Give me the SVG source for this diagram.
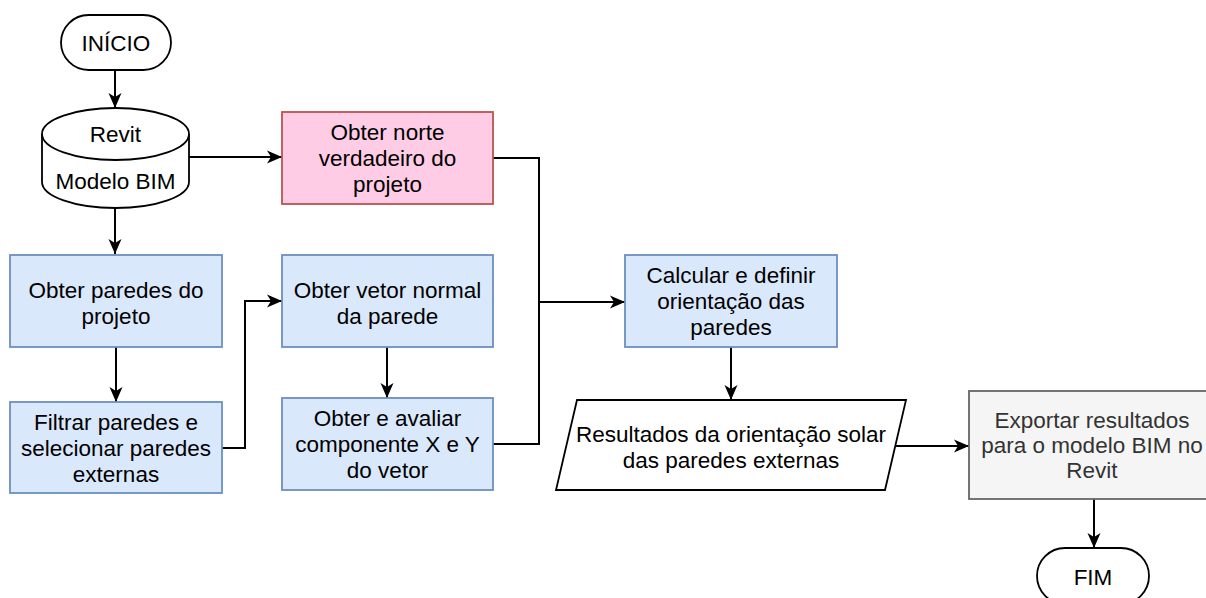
<svg xmlns="http://www.w3.org/2000/svg" width="1206" height="598" viewBox="0 0 1206 598">
  <defs>
    <style>
      text { font-family: "Liberation Sans", Arial, sans-serif; font-size: 22.5px; fill: #000; text-anchor: middle; }
      .term { fill: #ffffff; stroke: #000; stroke-width: 1.8; }
      .blue { fill: #dae8fc; stroke: #6c8ebf; stroke-width: 1.8; }
      .pink { fill: #ffcce6; stroke: #b85450; stroke-width: 1.8; }
      .gray { fill: #f5f5f5; stroke: #666666; stroke-width: 1.8; }
      .gray-text { fill: #333333; }
      .plain { fill: #ffffff; stroke: #000; stroke-width: 1.8; }
      .edge { fill: none; stroke: #000; stroke-width: 2; }
    </style>
    <marker id="arrow" markerUnits="userSpaceOnUse" markerWidth="20" markerHeight="16" viewBox="-17 -8 20 16" refX="0" refY="0" orient="auto">
      <path d="M0,0 L-15,-6.5 L-11,0 L-15,6.5 Z" fill="#000"/>
    </marker>
  </defs>

  <rect width="1206" height="598" fill="#ffffff"/>

  <!-- connectors -->
  <g id="edges">
    <path class="edge" d="M115,70 V108" marker-end="url(#arrow)"/>
    <path class="edge" d="M189,157 H282" marker-end="url(#arrow)"/>
    <path class="edge" d="M115,208 V254" marker-end="url(#arrow)"/>
    <path class="edge" d="M116,347 V402" marker-end="url(#arrow)"/>
    <path class="edge" d="M222,448 H245 V301 H282" marker-end="url(#arrow)"/>
    <path class="edge" d="M387,347 V398" marker-end="url(#arrow)"/>
    <path class="edge" d="M493,158 H539 V302 H625" marker-end="url(#arrow)"/>
    <path class="edge" d="M493,444 H539 V302"/>
    <path class="edge" d="M731,347 V400" marker-end="url(#arrow)"/>
    <path class="edge" d="M895,446 H969" marker-end="url(#arrow)"/>
    <path class="edge" d="M1094,499 V548" marker-end="url(#arrow)"/>
  </g>

  <!-- start -->
  <g id="inicio">
    <rect class="term" x="61" y="15" width="110" height="55" rx="27.5" ry="27.5"/>
    <text x="116" y="51">INÍCIO</text>
  </g>

  <!-- BIM model data store -->
  <g id="modelo-bim">
    <path class="plain" d="M42,134 A73.5,26 0 0 1 189,134 L189,182 A73.5,26 0 0 1 42,182 Z"/>
    <path class="plain" fill="none" d="M42,134 A73.5,26 0 0 0 189,134"/>
    <text x="115.5" y="142">Revit</text>
    <text x="115.5" y="189">Modelo BIM</text>
  </g>

  <g id="norte-verdadeiro">
    <rect class="pink" x="282" y="112" width="211" height="92"/>
    <text x="387.5" y="140">Obter norte</text>
    <text x="387.5" y="166">verdadeiro do</text>
    <text x="387.5" y="192">projeto</text>
  </g>

  <g id="obter-paredes">
    <rect class="blue" x="10" y="255" width="212" height="92"/>
    <text x="116" y="298">Obter paredes do</text>
    <text x="116" y="324">projeto</text>
  </g>

  <g id="filtrar-paredes">
    <rect class="blue" x="10" y="402" width="212" height="91"/>
    <text x="116" y="430">Filtrar paredes e</text>
    <text x="116" y="456">selecionar paredes</text>
    <text x="116" y="482">externas</text>
  </g>

  <g id="vetor-normal">
    <rect class="blue" x="282" y="255" width="211" height="92"/>
    <text x="387.5" y="298">Obter vetor normal</text>
    <text x="387.5" y="324">da parede</text>
  </g>

  <g id="componentes-xy">
    <rect class="blue" x="282" y="398" width="211" height="92"/>
    <text x="387.5" y="426">Obter e avaliar</text>
    <text x="387.5" y="452">componente X e Y</text>
    <text x="387.5" y="478">do vetor</text>
  </g>

  <g id="calcular-orientacao">
    <rect class="blue" x="625" y="255" width="212" height="92"/>
    <text x="731" y="283">Calcular e definir</text>
    <text x="731" y="309">orientação das</text>
    <text x="731" y="335">paredes</text>
  </g>

  <g id="resultados">
    <path class="plain" d="M577,400 H906 L885,490 H556 Z"/>
    <text x="731" y="442">Resultados da orientação solar</text>
    <text x="731" y="468">das paredes externas</text>
  </g>

  <g id="exportar">
    <rect class="gray" x="969" y="391" width="250" height="108"/>
    <text class="gray-text" x="1092" y="428">Exportar resultados</text>
    <text class="gray-text" x="1092" y="453">para o modelo BIM no</text>
    <text class="gray-text" x="1092" y="478">Revit</text>
  </g>

  <!-- end -->
  <g id="fim">
    <rect class="term" x="1037" y="548" width="112" height="56" rx="28" ry="28"/>
    <text x="1093" y="585">FIM</text>
  </g>
</svg>
